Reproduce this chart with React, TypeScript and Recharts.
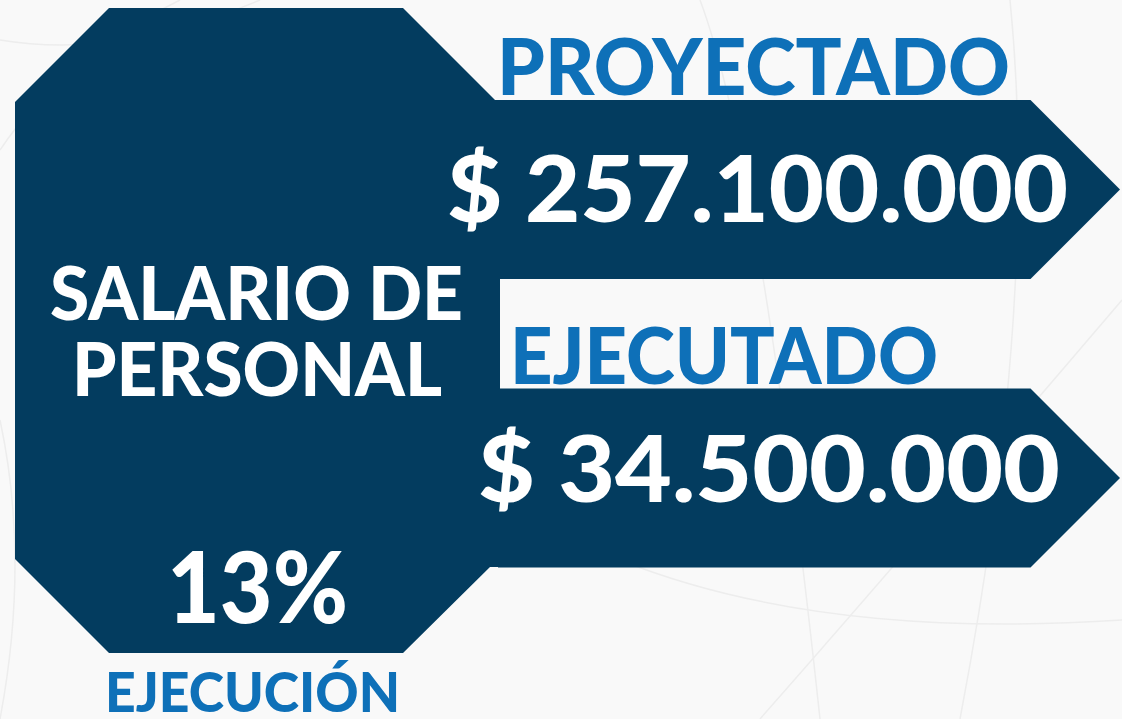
import React from 'react'
import { BarChart, Bar, XAxis, YAxis } from 'recharts'

// datos del cuadro
const titulo = ['SALARIO DE', 'PERSONAL']
const categorias = ['PROYECTADO', 'EJECUTADO']
const valores = [257100000, 34500000]
const pieEjecucion = 'EJECUCIÓN'

const AZUL_OSCURO = '#033c5f'
const AZUL = '#0e70b8'
const FUENTE = 'Lato, "Open Sans", sans-serif'

const rows = categorias.map((categoria, i) => ({ categoria, valor: valores[i] }))
const porcentaje = Math.round((valores[1] / valores[0]) * 100)

const formatoPesos = (n: number) =>
  '$ ' + String(n).replace(/\B(?=(\d{3})+(?!\d))/g, '.')

// ajustes de texto por fila (x inicial, ancho, desplazamiento vertical)
const etiquetaX = [497, 510]
const etiquetaAncho = [513, 428]
const valorX = [447, 478]
const valorAncho = [621, 582]
const valorDy = [32, 24]

const ANCHO = 1122
const ALTO = 719
const MARGEN = { top: 45, right: 2, bottom: 97, left: 498 }

// flecha a todo el ancho de la banda + textos
const FlechaBarra = (props: any) => {
  const { y, height, index, payload, background } = props
  const i = index ?? categorias.indexOf(payload?.categoria)
  const x0 = background?.x ?? MARGEN.left
  const w = background?.width ?? ANCHO - MARGEN.left - MARGEN.right
  const punta = height / 2
  const d = `M${x0},${y} L${x0 + w - punta},${y} L${x0 + w},${y + height / 2} L${x0 + w - punta},${y + height} L${x0},${y + height} Z`
  return (
    <g>
      <path d={d} fill={AZUL_OSCURO} />
      <text
        x={etiquetaX[i]}
        y={y - 5}
        fill={AZUL}
        fontFamily={FUENTE}
        fontWeight={900}
        fontSize={79}
        textLength={etiquetaAncho[i]}
        lengthAdjust="spacingAndGlyphs"
      >
        {categorias[i]}
      </text>
      <text
        x={valorX[i]}
        y={y + height / 2 + valorDy[i]}
        fill="#ffffff"
        fontFamily={FUENTE}
        fontWeight={900}
        fontSize={91}
        textLength={valorAncho[i]}
        lengthAdjust="spacingAndGlyphs"
      >
        {formatoPesos(valores[i])}
      </text>
    </g>
  )
}

const Octagono = () => (
  <g>
    <rect x={0} y={0} width={ANCHO} height={ALTO} fill="#f9f9f9" />
    <g stroke="#ededed" strokeWidth={1.5} fill="none">
      <path d="M0,40 Q120,60 260,0" />
      <path d="M0,150 Q60,60 180,0" />
      <path d="M700,0 Q760,160 820,719" />
      <path d="M1010,0 Q1040,300 960,719" />
      <path d="M1122,300 Q900,560 760,719" />
      <path d="M620,560 Q820,640 1122,620" />
      <path d="M0,420 Q30,560 0,719" />
    </g>
    <path
      d="M15,102 L109,8 L403,8 L495,100 L500,100 L500,567 L490,567 L403,653 L109,653 L15,559 Z"
      fill={AZUL_OSCURO}
    />
  </g>
)

const TextosFijos = () => (
  <g fontFamily={FUENTE} fontWeight={900}>
    <text x={50} y={320} fill="#ffffff" fontSize={74} textLength={413} lengthAdjust="spacingAndGlyphs">
      {titulo[0]}
    </text>
    <text x={72} y={396} fill="#ffffff" fontSize={74} textLength={370} lengthAdjust="spacingAndGlyphs">
      {titulo[1]}
    </text>
    <text x={167} y={623} fill="#ffffff" fontSize={99} textLength={181} lengthAdjust="spacingAndGlyphs">
      {`${porcentaje}%`}
    </text>
    <text x={105} y={712} fill={AZUL} fontSize={56} textLength={295} lengthAdjust="spacingAndGlyphs">
      {pieEjecucion}
    </text>
  </g>
)

export default function App() {
  return (
    <div style={{ position: 'absolute', left: 0, top: 0, width: ANCHO, height: ALTO, background: '#f9f9f9' }}>
      <BarChart
        width={ANCHO}
        height={ALTO}
        data={rows}
        layout="vertical"
        margin={MARGEN}
        barSize={179}
      >
        <Octagono />
        <XAxis type="number" hide domain={[0, Math.max(...valores)]} />
        <YAxis type="category" dataKey="categoria" hide />
        <Bar dataKey="valor" isAnimationActive={false} shape={<FlechaBarra />} />
        <TextosFijos />
      </BarChart>
    </div>
  )
}
